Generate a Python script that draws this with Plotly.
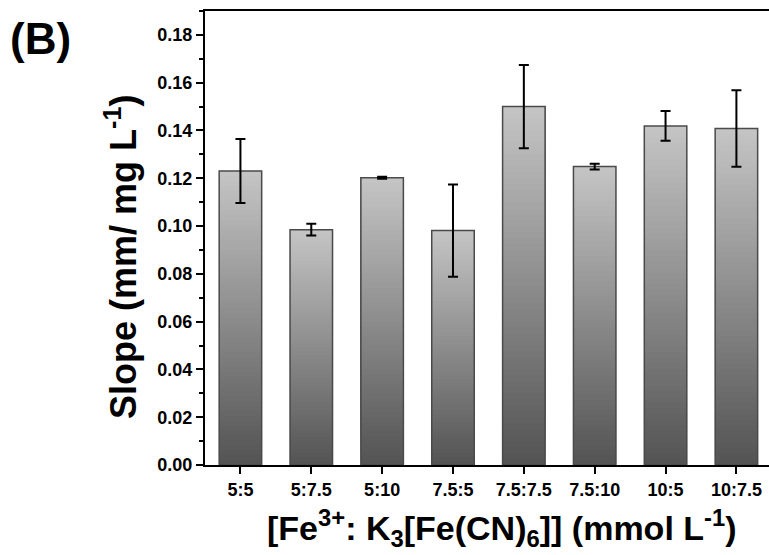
import plotly.graph_objects as go

categories = ["5:5", "5:7.5", "5:10", "7.5:5", "7.5:7.5", "7.5:10", "10:5", "10:7.5"]
slope = [0.1230, 0.0985, 0.1202, 0.0981, 0.1500, 0.1249, 0.1419, 0.1408]
slope_err = [0.0134, 0.0025, 0.0004, 0.0193, 0.0174, 0.0012, 0.0062, 0.0160]
y_ticks = [0.00, 0.02, 0.04, 0.06, 0.08, 0.10, 0.12, 0.14, 0.16, 0.18]

N_STEPS = 60
dark = (84, 84, 84)
light = (196, 196, 196)

def shade(f):
    c = [round(dark[i] + (light[i] - dark[i]) * f) for i in range(3)]
    return f"rgb({c[0]},{c[1]},{c[2]})"

# gradient fill: overlapping segments, each from k/N of the bar up to its top
gx, gbase, gy, gcol = [], [], [], []
for k in range(N_STEPS):
    for c, v in zip(categories, slope):
        gx.append(c)
        gbase.append(v * k / N_STEPS)
        gy.append(v - v * k / N_STEPS)
        gcol.append(shade(k / (N_STEPS - 1)))

font_family = "Liberation Sans, Arial, sans-serif"

fig = go.Figure()
fig.add_trace(go.Bar(
    x=gx, y=gy, base=gbase, width=0.6,
    marker=dict(color=gcol, line=dict(width=0)),
    showlegend=False, hoverinfo="skip",
))
fig.add_trace(go.Bar(
    x=categories, y=slope, base=0, width=0.6,
    marker=dict(color="rgba(0,0,0,0)", line=dict(color="#4a4a4a", width=1.5)),
    error_y=dict(type="data", array=slope_err, color="black", thickness=2, width=5),
    showlegend=False,
))

fig.update_layout(
    width=769, height=555,
    margin=dict(l=205, r=0, t=11, b=90),
    paper_bgcolor="white", plot_bgcolor="white",
    barmode="overlay",
    font=dict(family=font_family, color="black"),
    annotations=[
        dict(text="<b>(B)</b>", xref="paper", yref="paper",
             x=-0.350, y=0.940, xanchor="left", yanchor="middle",
             showarrow=False, font=dict(size=44, family=font_family, color="black")),
        dict(text="<b>Slope (mm/ mg L<sup>-1</sup>)</b>", xref="paper", yref="paper",
             x=-0.149, y=0.458, xanchor="center", yanchor="middle", textangle=-90,
             showarrow=False, font=dict(size=36, family=font_family, color="black")),
        dict(text="<b>[Fe<sup>3+</sup>: K<sub>3</sub>[Fe(CN)<sub>6</sub>]] (mmol L<sup>-1</sup>)</b>",
             xref="paper", yref="paper",
             x=0.527, y=-0.139, xanchor="center", yanchor="middle",
             showarrow=False, font=dict(size=34, family=font_family, color="black")),
    ],
)
fig.update_xaxes(
    type="category", categoryorder="array", categoryarray=categories,
    range=[-0.5, 7.46],
    showline=True, linecolor="black", linewidth=2, mirror=True,
    ticks="outside", ticklen=7, tickwidth=2, tickcolor="black",
    tickfont=dict(size=18, family=font_family, color="black", weight="bold"),
    ticklabeloverflow="allow",
    showgrid=False, zeroline=False,
)
fig.update_yaxes(
    range=[0, 0.19], tickvals=y_ticks, tickformat=".2f",
    showline=True, linecolor="black", linewidth=2, mirror=False,
    ticks="outside", ticklen=7, tickwidth=2, tickcolor="black",
    tickfont=dict(size=18, family=font_family, color="black", weight="bold"),
    minor=dict(dtick=0.01, ticks="outside", ticklen=4, tickwidth=2, tickcolor="black", showgrid=False),
    showgrid=False, zeroline=False,
)

fig.write_html(
    "out.html",
    config={"displayModeBar": False},
    post_script="document.body.style.margin='0';document.body.style.overflow='hidden';",
)
